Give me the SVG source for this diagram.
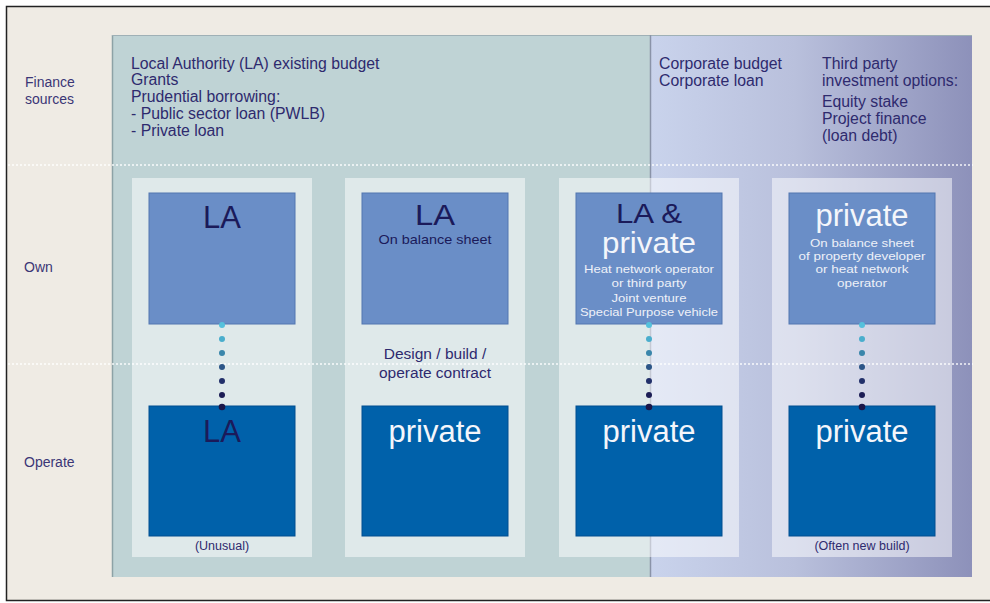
<svg xmlns="http://www.w3.org/2000/svg" width="990" height="603" viewBox="0 0 990 603">
<defs>
<linearGradient id="rg" x1="650" y1="0" x2="972" y2="0" gradientUnits="userSpaceOnUse">
<stop offset="0" stop-color="#c9d3ec"/>
<stop offset="0.45" stop-color="#b9c0dc"/>
<stop offset="1" stop-color="#8d91ba"/>
</linearGradient>
<style>
.lbl{font-family:"Liberation Sans",Arial,sans-serif;font-size:14px;fill:#3b3676}
.fin{font-family:"Liberation Sans",Arial,sans-serif;font-size:15.8px;fill:#2e2a6e}
.col{fill:#ffffff;fill-opacity:0.5}
.own{fill:#6a8ec7;stroke:#5276b0;stroke-width:1}
.op{fill:#0061aa;stroke:#004f90;stroke-width:1}
.big{font-family:"Liberation Sans",Arial,sans-serif;font-size:31px;text-anchor:middle}
.nv{fill:#1b1a5a}
.wh{fill:#f4f6fb}
.sm{font-family:"Liberation Sans",Arial,sans-serif;font-size:11px;text-anchor:middle;fill:#eef1f8}
.md{font-family:"Liberation Sans",Arial,sans-serif;font-size:15.5px;text-anchor:middle;fill:#2e2a6e}
.nt{font-family:"Liberation Sans",Arial,sans-serif;font-size:12.5px;text-anchor:middle;fill:#2e2a6e}
.sep{stroke:#ffffff;stroke-width:1.6;stroke-dasharray:2 2;fill:none;opacity:0.9}
</style>
</defs>
<rect x="0" y="0" width="990" height="603" fill="#ffffff"/>
<rect x="6.5" y="6.5" width="990" height="594" fill="#efebe4" stroke="#222222" stroke-width="1.5"/>
<g id="panel">
<rect x="112" y="35" width="538" height="542" fill="#bfd3d5"/>
<rect x="650" y="35" width="322" height="542" fill="url(#rg)"/>
<line x1="112.5" y1="35" x2="112.5" y2="577" stroke="#8da2a6" stroke-width="1.5"/>
<line x1="112" y1="35.5" x2="972" y2="35.5" stroke="#9fb0b6" stroke-width="1"/>
<line x1="650.5" y1="35" x2="650.5" y2="577" stroke="#8a93a8" stroke-width="1.5"/>
</g>
<g id="row-labels">
<text class="lbl" x="25" y="87">Finance</text>
<text class="lbl" x="25" y="104">sources</text>
<text class="lbl" x="24" y="272">Own</text>
<text class="lbl" x="24" y="467">Operate</text>
</g>
<g id="finance-la">
<text class="fin" x="131" y="69">Local Authority (LA) existing budget</text>
<text class="fin" x="131" y="85">Grants</text>
<text class="fin" x="131" y="102">Prudential borrowing:</text>
<text class="fin" x="131" y="119">- Public sector loan (PWLB)</text>
<text class="fin" x="131" y="136">- Private loan</text>
</g>
<g id="finance-corporate">
<text class="fin" x="659" y="69">Corporate budget</text>
<text class="fin" x="659" y="86">Corporate loan</text>
</g>
<g id="finance-third-party">
<text class="fin" x="822" y="69">Third party</text>
<text class="fin" x="822" y="86">investment options:</text>
<text class="fin" x="822" y="107">Equity stake</text>
<text class="fin" x="822" y="124">Project finance</text>
<text class="fin" x="822" y="141">(loan debt)</text>
</g>
<line class="sep" x1="8" y1="165" x2="973" y2="165"/>
<line class="sep" x1="8" y1="364" x2="973" y2="364"/>
<g id="columns">
<rect class="col" x="132" y="178" width="180" height="379"/>
<rect class="col" x="345" y="178" width="180" height="379"/>
<rect class="col" x="559" y="178" width="180" height="379"/>
<rect class="col" x="772" y="178" width="180" height="379"/>
</g>
<g id="own-la">
<rect class="own" x="149" y="193" width="146" height="131"/>
<text class="big nv" x="222" y="228">LA</text>
</g>
<g id="own-la-balance">
<rect class="own" x="362" y="193" width="146" height="131"/>
<text class="big nv" x="435" y="225" style="font-size:29px" textLength="40" lengthAdjust="spacingAndGlyphs">LA</text>
<text class="md" x="435" y="244" style="fill:#1b1a5a;font-size:13px" textLength="113" lengthAdjust="spacingAndGlyphs">On balance sheet</text>
</g>
<g id="own-la-private">
<rect class="own" x="576" y="193" width="146" height="131"/>
<text class="big nv" x="649" y="223" style="font-size:28px" textLength="66" lengthAdjust="spacingAndGlyphs">LA &amp;</text>
<text class="big wh" x="649" y="253" style="font-size:29px" textLength="94" lengthAdjust="spacingAndGlyphs">private</text>
<text class="sm" x="649" y="273" textLength="130" lengthAdjust="spacingAndGlyphs">Heat network operator</text>
<text class="sm" x="649" y="287" textLength="75" lengthAdjust="spacingAndGlyphs">or third party</text>
<text class="sm" x="649" y="302" textLength="75" lengthAdjust="spacingAndGlyphs">Joint venture</text>
<text class="sm" x="649" y="316" textLength="138" lengthAdjust="spacingAndGlyphs">Special Purpose vehicle</text>
</g>
<g id="own-private">
<rect class="own" x="789" y="193" width="146" height="131"/>
<text class="big wh" x="862" y="226">private</text>
<text class="sm" x="862" y="247" textLength="104" lengthAdjust="spacingAndGlyphs">On balance sheet</text>
<text class="sm" x="862" y="260" textLength="127" lengthAdjust="spacingAndGlyphs">of property developer</text>
<text class="sm" x="862" y="273" textLength="93" lengthAdjust="spacingAndGlyphs">or heat network</text>
<text class="sm" x="862" y="287" textLength="50" lengthAdjust="spacingAndGlyphs">operator</text>
</g>
<g id="contract-label">
<text class="md" x="435" y="359">Design / build /</text>
<text class="md" x="435" y="378">operate contract</text>
</g>
<g id="op-la">
<rect class="op" x="149" y="406" width="146" height="130"/>
<text class="big nv" x="222" y="442">LA</text>
<text class="nt" x="222" y="550">(Unusual)</text>
</g>
<g id="op-private-1">
<rect class="op" x="362" y="406" width="146" height="130"/>
<text class="big wh" x="435" y="442">private</text>
</g>
<g id="op-private-2">
<rect class="op" x="576" y="406" width="146" height="130"/>
<text class="big wh" x="649" y="442">private</text>
</g>
<g id="op-private-3">
<rect class="op" x="789" y="406" width="146" height="130"/>
<text class="big wh" x="862" y="442">private</text>
<text class="nt" x="862" y="550">(Often new build)</text>
</g>
<g id="connectors">
<g id="c1">
<circle cx="222" cy="325" r="3" fill="#55c1dc"/><circle cx="222" cy="339" r="3" fill="#4aaecd"/><circle cx="222" cy="353" r="3" fill="#3a86ab"/><circle cx="222" cy="367" r="3" fill="#2c5587"/><circle cx="222" cy="381" r="3" fill="#22306a"/><circle cx="222" cy="395" r="3" fill="#1c1d55"/><circle cx="222" cy="407" r="3.3" fill="#1a1648"/>
</g>
<g id="c3">
<circle cx="649" cy="325" r="3" fill="#55c1dc"/><circle cx="649" cy="339" r="3" fill="#4aaecd"/><circle cx="649" cy="353" r="3" fill="#3a86ab"/><circle cx="649" cy="367" r="3" fill="#2c5587"/><circle cx="649" cy="381" r="3" fill="#22306a"/><circle cx="649" cy="395" r="3" fill="#1c1d55"/><circle cx="649" cy="407" r="3.3" fill="#1a1648"/>
</g>
<g id="c4">
<circle cx="862" cy="325" r="3" fill="#55c1dc"/><circle cx="862" cy="339" r="3" fill="#4aaecd"/><circle cx="862" cy="353" r="3" fill="#3a86ab"/><circle cx="862" cy="367" r="3" fill="#2c5587"/><circle cx="862" cy="381" r="3" fill="#22306a"/><circle cx="862" cy="395" r="3" fill="#1c1d55"/><circle cx="862" cy="407" r="3.3" fill="#1a1648"/>
</g>
</g>
</svg>
